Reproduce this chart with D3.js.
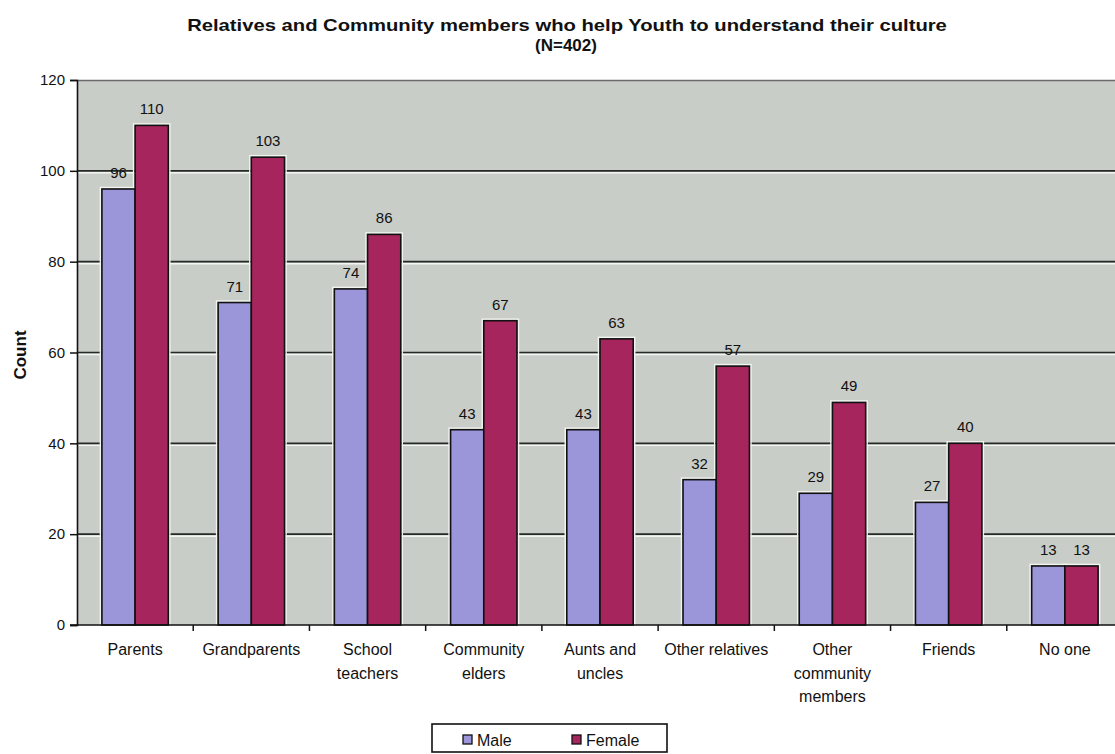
<!DOCTYPE html>
<html>
<head>
<meta charset="utf-8">
<script src="https://cdn.jsdelivr.net/npm/d3@7"></script>
<style>
  html, body { margin: 0; padding: 0; background: #fff; }
  svg { display: block; font-family: "Liberation Sans", Arial, sans-serif; }
</style>
</head>
<body>
<svg id="chart" width="1115" height="754"></svg>
<script>
// Who helps youth understand their culture, counts by gender
const categories = [
  ["Parents"],
  ["Grandparents"],
  ["School", "teachers"],
  ["Community", "elders"],
  ["Aunts and", "uncles"],
  ["Other relatives"],
  ["Other", "community", "members"],
  ["Friends"],
  ["No one"]
];
const maleValues   = [96, 71, 74, 43, 43, 32, 29, 27, 13];
const femaleValues = [110, 103, 86, 67, 63, 57, 49, 40, 13];
const seriesNames  = ["Male", "Female"];
const yTicks       = [0, 20, 40, 60, 80, 100, 120];
const titleLines   = ["Relatives and Community members who help Youth to understand their culture", "(N=402)"];

const colors = { Male: "#9b96da", Female: "#a7255d" };

const svg = d3.select("#chart");
const plotLeft = 77, plotRight = 1123, plotTop = 80, plotBottom = 625;

const keys = categories.map(c => c.join(" "));
const x0 = d3.scaleBand().domain(keys).range([plotLeft, plotRight]);
const x1 = d3.scaleBand().domain(seriesNames).range([0, x0.bandwidth()]).paddingOuter(0.75);
const y = d3.scaleLinear().domain([0, 120]).range([plotBottom, plotTop]);

// plot area
svg.append("rect")
  .attr("x", plotLeft).attr("y", plotTop)
  .attr("width", plotRight - plotLeft).attr("height", plotBottom - plotTop)
  .attr("fill", "#c9cdc8");
svg.append("line")
  .attr("x1", plotLeft).attr("x2", plotRight).attr("y1", plotTop + 0.5).attr("y2", plotTop + 0.5)
  .attr("stroke", "#6a6a6a").attr("stroke-width", 1.5);

// gridlines with a light edge beneath
const grid = svg.append("g");
yTicks.filter(t => t > 0 && t < 120).forEach(t => {
  grid.append("line")
    .attr("x1", plotLeft).attr("x2", plotRight).attr("y1", y(t) + 2).attr("y2", y(t) + 2)
    .attr("stroke", "#f4f6f2").attr("stroke-width", 1.5);
  grid.append("line")
    .attr("x1", plotLeft).attr("x2", plotRight).attr("y1", y(t)).attr("y2", y(t))
    .attr("stroke", "#262a26").attr("stroke-width", 1.6);
});

// bars
const rows = keys.map((k, i) => ({ key: k, Male: maleValues[i], Female: femaleValues[i] }));
const groups = svg.append("g").selectAll("g").data(rows).join("g")
  .attr("transform", d => `translate(${x0(d.key)},0)`);

const bw = x1.bandwidth();
groups.selectAll("rect.halo").data(d => seriesNames.map(s => ({ s, v: d[s] }))).join("rect")
  .attr("class", "halo")
  .attr("x", d => x1(d.s) - 1.5).attr("y", d => y(d.v) - 1.5)
  .attr("width", bw + 3).attr("height", d => y(0) - y(d.v) + 1.5)
  .attr("fill", "none").attr("stroke", "#f2f4f0").attr("stroke-width", 1.5);
groups.selectAll("rect.bar").data(d => seriesNames.map(s => ({ s, v: d[s] }))).join("rect")
  .attr("class", "bar")
  .attr("x", d => x1(d.s)).attr("y", d => y(d.v))
  .attr("width", bw).attr("height", d => y(0) - y(d.v))
  .attr("fill", d => colors[d.s]).attr("stroke", "#111").attr("stroke-width", 1.6);

// value labels
groups.selectAll("text.val").data(d => seriesNames.map(s => ({ s, v: d[s] }))).join("text")
  .attr("class", "val")
  .attr("x", d => x1(d.s) + bw / 2).attr("y", d => y(d.v) - 11)
  .attr("text-anchor", "middle").attr("font-size", 15).attr("fill", "#111")
  .text(d => d.v);

// y axis
const yAxis = svg.append("g")
  .attr("transform", `translate(${plotLeft},0)`)
  .call(d3.axisLeft(y).tickValues(yTicks).tickSize(7).tickPadding(5));
yAxis.select(".domain").attr("stroke", "#111").attr("stroke-width", 1.6);
yAxis.selectAll(".tick line").attr("stroke", "#111").attr("stroke-width", 1.5);
yAxis.selectAll(".tick text").attr("font-size", 15).attr("fill", "#111")
  .attr("font-family", "Liberation Sans, Arial, sans-serif");

// x axis with ticks between categories
const xAxis = svg.append("g").attr("transform", `translate(0,${plotBottom})`);
xAxis.append("line").attr("x1", plotLeft - 7).attr("x2", plotRight).attr("y1", 0).attr("y2", 0)
  .attr("stroke", "#111").attr("stroke-width", 1.6);
keys.forEach((k, i) => {
  if (i > 0) {
    xAxis.append("line").attr("x1", x0(k)).attr("x2", x0(k)).attr("y1", 0).attr("y2", 6)
      .attr("stroke", "#111").attr("stroke-width", 1.5);
  }
});
xAxis.selectAll("text.cat").data(categories).join("text")
  .attr("class", "cat")
  .attr("x", (d, i) => x0(keys[i]) + x0.bandwidth() / 2)
  .attr("y", 30)
  .attr("text-anchor", "middle").attr("font-size", 16).attr("fill", "#111")
  .each(function (lines) {
    const t = d3.select(this);
    lines.forEach((line, j) => {
      t.append("tspan").attr("x", t.attr("x")).attr("dy", j === 0 ? 0 : 23.5).text(line);
    });
  });

// y axis title
svg.append("text")
  .attr("transform", "translate(26,355) rotate(-90)")
  .attr("text-anchor", "middle").attr("font-size", 17).attr("font-weight", "bold").attr("fill", "#111")
  .text("Count");

// title: first line is set wide, second line at normal width
svg.append("text")
  .attr("transform", "translate(567,31) scale(1.19,1)")
  .attr("text-anchor", "middle").attr("font-size", 17).attr("font-weight", "bold").attr("fill", "#111")
  .text(titleLines[0]);
svg.append("text")
  .attr("x", 566).attr("y", 51)
  .attr("text-anchor", "middle").attr("font-size", 17).attr("font-weight", "bold").attr("fill", "#111")
  .text(titleLines[1]);

// legend
const legend = svg.append("g");
legend.append("rect").attr("x", 432).attr("y", 724).attr("width", 235).attr("height", 28)
  .attr("fill", "#fff").attr("stroke", "#111").attr("stroke-width", 1.6);
const legendX = { Male: 463, Female: 572 };
seriesNames.forEach(s => {
  legend.append("rect").attr("x", legendX[s]).attr("y", 735).attr("width", 9).attr("height", 9)
    .attr("fill", colors[s]).attr("stroke", "#111").attr("stroke-width", 1.3);
  legend.append("text").attr("x", legendX[s] + 14).attr("y", 746)
    .attr("font-size", 16).attr("fill", "#111").text(s);
});
</script>
</body>
</html>
